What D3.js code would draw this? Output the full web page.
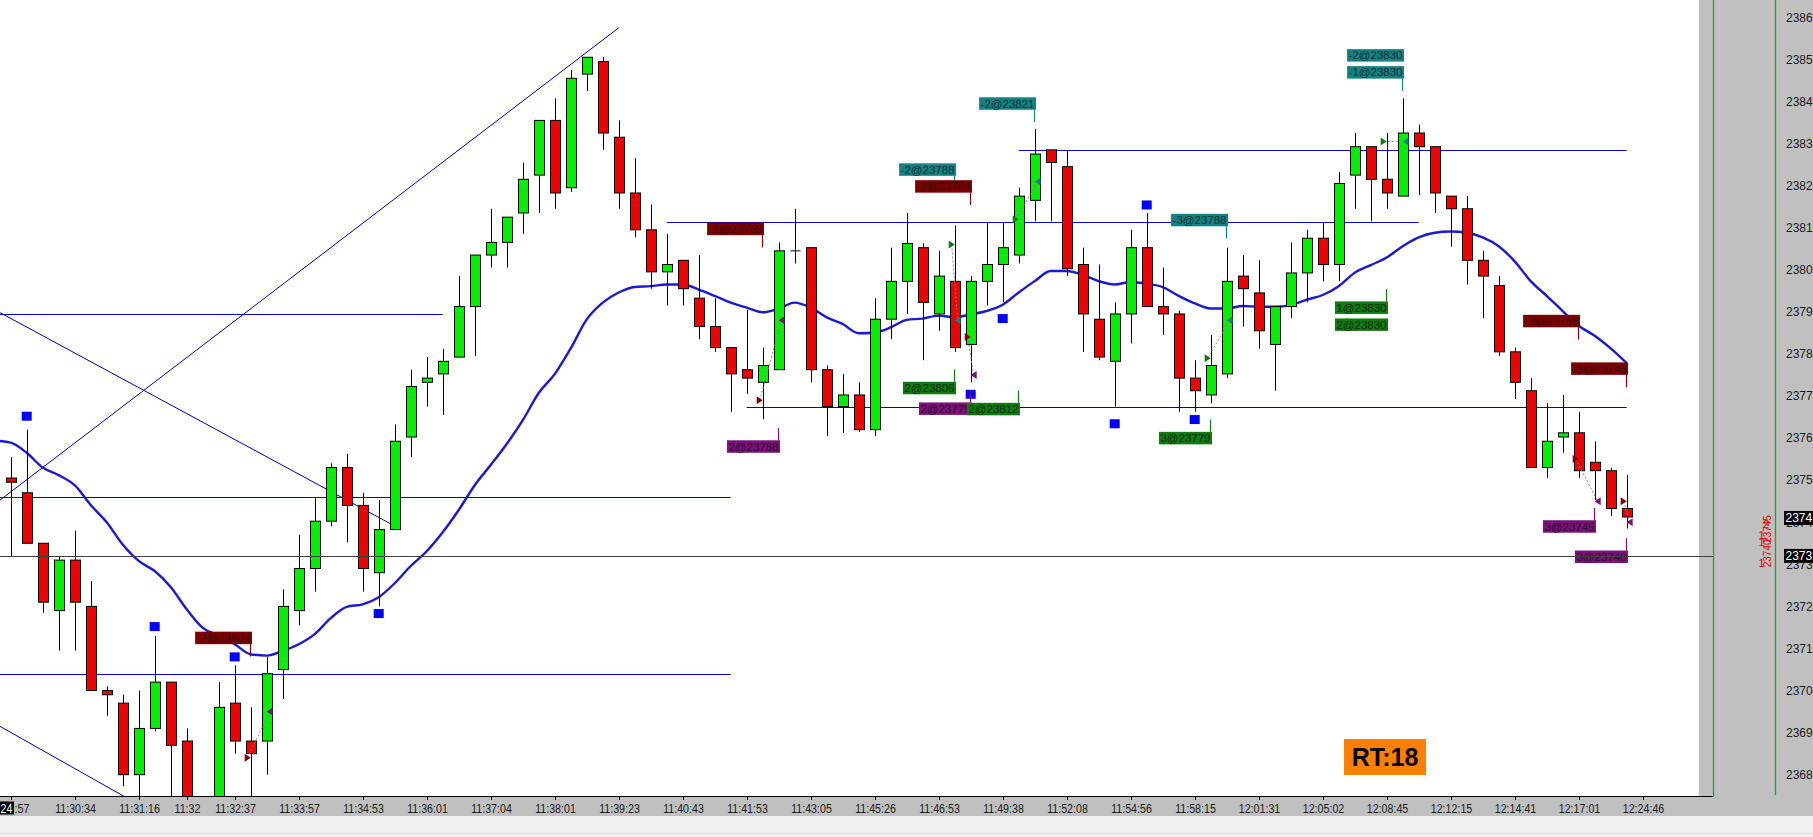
<!DOCTYPE html>
<html><head><meta charset="utf-8">
<script src="https://cdn.jsdelivr.net/npm/d3@7/dist/d3.min.js"></script>
<style>body{margin:0;background:#fff;overflow:hidden}</style>
</head><body><svg id="c" width="1813" height="837"></svg>
<script>
// ---------- DATA ----------
const open  = [23750.5,23747,23735,23719,23731,23720,23700,23697,23680,23691,23702,23688,23670,23668,23697,23688,23688,23705,23719,23729,23740.25,23753,23744,23728,23738.25,23760.25,23773.25,23775.25,23779.25,23791.25,23803.5,23806.5,23813.5,23822.5,23835.5,23819.5,23846.5,23849.5,23831.5,23818.25,23809.5,23799.5,23802.25,23793.25,23786.5,23781.5,23776.25,23773.25,23776.25,23804.5,23805.25,23776.25,23767.5,23770.25,23762,23788.25,23797.25,23805.25,23789.5,23797.25,23782.25,23797.25,23801.25,23803.5,23816.5,23828.5,23824.5,23801.25,23788.25,23778.25,23789.5,23805.25,23791.25,23789.5,23774.25,23770.25,23775.25,23798.5,23794.5,23782.25,23791.25,23799.25,23807.5,23801.25,23822.5,23829.25,23821.5,23817.5,23832.5,23829.25,23817.5,23814.5,23802.25,23796.25,23780.5,23771.25,23753,23760.25,23761.25,23754.25,23752.25,23743.25];
const high  = [23755.5,23762,23735,23732,23738,23726,23701,23699,23700,23713,23702,23691,23673,23702,23706,23696,23708,23724,23737,23746,23754,23756.25,23747,23745.25,23763.25,23776.25,23779.25,23781.25,23798.5,23803.5,23814.5,23812.5,23825.5,23835.5,23840.75,23847.5,23850.5,23850.5,23835.5,23826.5,23815.5,23808.5,23802.25,23803.5,23793.25,23781.5,23790.5,23781.5,23806.5,23814.5,23805.25,23777.25,23775.25,23773.25,23793.25,23805.25,23813.5,23806.25,23804.5,23810.5,23798.5,23811.25,23811.25,23819.5,23833.5,23828.5,23828.5,23805.25,23801.25,23792.25,23809.5,23813.5,23800.5,23790.25,23778.5,23784.5,23805.25,23803.5,23802.25,23791.25,23806.5,23809.5,23811.25,23823.25,23832.5,23829.25,23832.5,23840.75,23834.5,23829.25,23817.5,23817.5,23804.5,23798.5,23781.5,23774.25,23768.25,23770.25,23766.25,23759.25,23753,23751.25];
const low   = [23732,23735,23718.5,23709.5,23709.5,23700,23694,23677.25,23672,23690.25,23671,23668,23663,23666,23685,23672,23680,23698,23715.5,23723.5,23739,23735.25,23723.5,23720,23738.25,23755.5,23767.5,23765.5,23779.25,23779.5,23800.5,23800.5,23808.5,23813.5,23814.5,23818.5,23842.5,23828.5,23814.5,23807.75,23795.5,23791.5,23791.5,23783.5,23780.5,23766.25,23770.5,23764.5,23776.25,23801.5,23773.25,23760.5,23761.25,23761.5,23760.5,23783.5,23789.5,23778.5,23785.5,23780.5,23773.25,23791.5,23792.25,23801.5,23811.5,23811.5,23798.5,23780.5,23778.5,23767.5,23782.5,23791.25,23784.5,23766.25,23766.25,23768.25,23774.25,23786.5,23781.25,23771.25,23788.5,23792.25,23797.25,23797.25,23814.5,23811.5,23814.5,23817.5,23817.75,23813.5,23805.5,23796.5,23788.5,23779.5,23769.25,23753,23750.5,23756.5,23750.5,23745.25,23741.5,23738.5];
const close = [23749.5,23735,23721,23731,23721,23700,23699,23680,23691,23702,23687,23672,23666,23696,23688,23685,23704,23720,23729,23740.25,23753,23744,23729,23738.25,23759.25,23772.25,23774.25,23778.25,23791.25,23803.5,23806.5,23812.5,23821.5,23835.5,23818.25,23845.5,23850.5,23832.5,23818.25,23809.5,23799.5,23801.25,23795.5,23786.5,23781.5,23775.25,23774.25,23777.25,23804.5,23804.5,23776.25,23767.5,23770.25,23762,23788.25,23797.25,23806.25,23792.25,23798.5,23781.5,23797.25,23801.25,23805.25,23817.5,23827.5,23825.5,23800.25,23789.5,23779.25,23789.5,23805.25,23791.25,23789.5,23774.25,23771.25,23777.25,23797.25,23795.5,23785.5,23791.25,23799.25,23807.5,23801.25,23820.5,23829.25,23821.5,23818.25,23832.5,23829.25,23818.25,23814.5,23802.25,23798.5,23780.5,23773.25,23753,23759.25,23761.25,23752.25,23752.25,23743.25,23741.25];
// moving average, first value belongs to bar -1
const maFirstBar = -1;
const ma = [23759.4,23758.9,23756.5,23753.0,23751.2,23748.8,23744.1,23740.0,23734.7,23730.8,23728.4,23724.6,23719.3,23714.9,23713.1,23711.0,23708.6,23708.3,23709.4,23711.0,23713.4,23717.2,23719.9,23720.5,23722.2,23725.5,23729.6,23733.1,23737.6,23742.9,23748.8,23753.6,23758.6,23764.2,23770.7,23775.2,23781.3,23788.2,23792.2,23794.6,23795.9,23796.1,23796.5,23796.5,23795.3,23793.8,23792.2,23791.0,23789.9,23790.8,23792.2,23791.0,23788.7,23787.1,23784.9,23785.1,23786.3,23788.1,23788.4,23789.1,23788.7,23789.4,23790.2,23791.7,23794.6,23797.3,23799.7,23799.7,23798.8,23797.3,23796.5,23797.1,23796.7,23795.9,23793.8,23792.0,23790.8,23790.8,23791.4,23791.2,23791.2,23791.6,23792.9,23794.0,23796.1,23799.3,23801.1,23802.9,23805.6,23807.7,23808.8,23809.1,23808.8,23807.7,23805.6,23802.0,23797.3,23793.8,23790.2,23786.7,23784.3,23781.3,23777.8];

const priceTicks = [23680,23690,23700,23710,23720,23730,23740,23750,23760,23770,23780,23790,23800,23810,23820,23830,23840,23850,23860];
const timeTickBars   = [4,8,11,14,18,22,26,30,34,38,42,46,50,54,58,62,66,70,74,78,82,86,90,94,98,102];
const timeTickLabels = ["11:30:34","11:31:16","11:32","11:32:37","11:33:57","11:34:53","11:36:01","11:37:04","11:38:01","11:39:23","11:40:43","11:41:53","11:43:05","11:45:26","11:46:53","11:49:38","11:52:08","11:54:56","11:58:15","12:01:31","12:05:02","12:08:45","12:12:15","12:14:41","12:17:01","12:24:46"];

const signalBars   = [1,9,14,23,60,62,69,71,74];
const signalPrices = [23765.2,23715.2,23708.0,23718.3,23770.4,23788.4,23763.4,23815.4,23764.4];

const levelPrices = [23789.4,23746.1,23704.0,23811.3,23767.4,23828.4];
const levelFrom   = [-1,-1,-1,41,46,63];
const levelTo     = [27,45,45,88,101,101];

const trendFromBar   = [-1,-1,-1];
const trendFromPrice = [23744.3,23790.5,23692.2];
const trendToBar     = [38,24,10];
const trendToPrice   = [23857.5,23739.1,23668.6];

const markPrice = 23732;
const lastPrice = 23741;

const orderBars   = [15,47,48,59,60,59,60,63,64,75,76,86,86,87,87,98,101,99,101];
const orderPrices = [23708.1,23805.3,23762.4,23819.4,23815.4,23776.3,23771.4,23771.3,23835.1,23764.4,23807.4,23795.4,23795.4,23842.5,23842.5,23783.4,23772.1,23743.4,23736.2];
const orderSides  = ["up","up","down","up","up","down","down","down","up","down","up","down","down","up","up","up","up","down","down"];
const orderSlots  = [0,0,0,0,0,0,0,0,0,0,0,0,1,0,1,0,0,0,0];
const orderTexts  = ["-2@23684","-2@23769","2@23788","-2@23788","-2@23784","2@23806","2@23775","2@23812","-2@23821","3@23779","-3@23788","1@23830","2@23830","-1@23830","-2@23830","-3@23755","-3@23745","3@23745","3@23740"];
const orderKinds  = ["dr","dr","pu","te","dr","gr","pu","gr","te","gr","te","gr","gr","te","te","dr","dr","pu","pu"];

const entryBars   = [15,47,59,60,63,75,86,98,101];
const entryPrices = [23684,23769,23806,23784,23812,23779,23830.5,23755,23745];
const entryKinds  = ["dr","dr","gr","dr","gr","gr","gr","dr","dr"];
const exitBars    = [16,48,59,60,64,76,87,99,101];
const exitPrices  = [23695,23788,23788,23775,23821,23788,23830.5,23745,23740];
const exitKinds   = ["pu","pu","te","pu","te","te","te","pu","pu"];

// small red order-quantity marks in the price-scale strip
const scaleMarkTexts  = ["2","1","1","1"];
const scaleMarkPrices = [23739.6,23737.0,23735.3,23730.3];
const scaleTagTexts   = ["23745","23740"];
const scaleTagPrices  = [23738.4,23732.6];

// ---------- DRAW ----------
const W = 1813, H = 837, plotR = 1699, plotB = 796;
const svg = d3.select("#c");
const x = d3.scaleLinear().domain([0,101]).range([10.7,1626.7]);
const y = d3.scaleLinear().domain([23680,23860]).range([774.7,17.3]);

const kindBg   = {dr:"#7d0000", pu:"#7a127a", te:"#138282", gr:"#127a12"};
const kindText = {dr:"#3a0000", pu:"#2e062e", te:"#063030", gr:"#042a04"};
const kindTri  = {dr:"#7d0000", pu:"#7a127a", te:"#138282", gr:"#127a12"};
const FONT = "Liberation Sans, Arial, sans-serif";

svg.append("rect").attr("width",W).attr("height",H).attr("fill","#fff");
// right gray panel & bottom bands
svg.append("rect").attr("x",plotR).attr("y",0).attr("width",W-plotR).attr("height",816).attr("fill","#c0c0c0");
svg.append("rect").attr("x",0).attr("y",plotB).attr("width",W).attr("height",20).attr("fill","#c0c0c0");
svg.append("rect").attr("x",0).attr("y",816).attr("width",W).attr("height",21).attr("fill","#f0f0f0");
svg.append("line").attr("x1",0).attr("x2",W).attr("y1",833.5).attr("y2",833.5).attr("stroke","#dcdcdc");

const defs = svg.append("defs");
defs.append("clipPath").attr("id","plot").append("rect").attr("x",0).attr("y",0).attr("width",plotR).attr("height",plotB);
const g = svg.append("g").attr("clip-path","url(#plot)");

// level lines
levelPrices.forEach((p,i)=>{
  g.append("line").attr("x1",x(levelFrom[i])).attr("x2",x(levelTo[i]))
   .attr("y1",Math.round(y(p))+0.5).attr("y2",Math.round(y(p))+0.5)
   .attr("stroke","#0000c8").attr("stroke-width",1);
});
trendFromBar.forEach((b,i)=>{
  g.append("line").attr("x1",x(b)).attr("y1",y(trendFromPrice[i])).attr("x2",x(trendToBar[i])).attr("y2",y(trendToPrice[i]))
   .attr("stroke","#0000b4").attr("stroke-width",1);
});
// mark line
svg.append("line").attr("x1",0).attr("x2",1713).attr("y1",Math.round(y(markPrice))+0.5).attr("y2",Math.round(y(markPrice))+0.5)
  .attr("stroke","#404040").attr("stroke-width",1);

// MA
const maLine = d3.line().x((d,i)=>x(i+maFirstBar)).y(d=>y(d)).curve(d3.curveMonotoneX);
g.append("path").attr("d",maLine(ma)).attr("fill","none").attr("stroke","#1a1ad2").attr("stroke-width",2.4);

// candles
const bars = d3.range(open.length);
const cg = g.append("g");
bars.forEach(i=>{
  const cx = Math.round(x(i))+0.5;
  cg.append("line").attr("x1",cx).attr("x2",cx).attr("y1",y(high[i])).attr("y2",y(low[i])).attr("stroke","#000").attr("stroke-width",1);
  const top = y(Math.max(open[i],close[i])), bot = y(Math.min(open[i],close[i]));
  const up = close[i] > open[i], flat = close[i] === open[i];
  if (flat) {
    cg.append("line").attr("x1",cx-5).attr("x2",cx+5).attr("y1",top).attr("y2",top).attr("stroke","#000");
  } else {
    cg.append("rect").attr("x",cx-5).attr("y",top).attr("width",10).attr("height",Math.max(1,bot-top))
      .attr("fill",up?"#00f000":"#f00000").attr("stroke","#000").attr("stroke-width",1);
  }
});

// signal squares
signalBars.forEach((b,i)=>{
  g.append("rect").attr("x",x(b)-5).attr("y",y(signalPrices[i])-4.5).attr("width",10).attr("height",9).attr("fill","#0000ff");
});

// trade connectors & triangles
entryBars.forEach((b,i)=>{
  const x1 = x(b)-3, y1 = y(entryPrices[i]), x2 = x(exitBars[i])+3, y2 = y(exitPrices[i]);
  g.append("line").attr("x1",x1).attr("y1",y1).attr("x2",x2).attr("y2",y2)
   .attr("stroke","#8a8a8a").attr("stroke-width",1).attr("stroke-dasharray","2,2");
  g.append("path").attr("d",`M${x1-3},${y1-4}L${x1+3},${y1}L${x1-3},${y1+4}Z`).attr("fill",kindTri[entryKinds[i]]);
  g.append("path").attr("d",`M${x2+3},${y2-4}L${x2-3},${y2}L${x2+3},${y2+4}Z`).attr("fill",kindTri[exitKinds[i]]);
});

// order labels
orderBars.forEach((b,i)=>{
  const k = orderKinds[i];
  const right = Math.round(x(b))+1;
  const ay = y(orderPrices[i]);
  const tick = 12.3, bh = 12.5, gap = 4.5;
  let ty1, ty2, by;
  if (orderSides[i]==="up") { ty1 = ay; ty2 = ay - tick; by = ty2 - bh - orderSlots[i]*(bh+gap); }
  else { ty1 = ay; ty2 = ay + tick; by = ty2 + orderSlots[i]*(bh+gap); }
  const lg = g.append("g");
  const t = lg.append("text").attr("font-family",FONT).attr("font-size",11.5)
     .attr("fill",kindText[k]).text(orderTexts[i]);
  const tw = t.node().getComputedTextLength();
  const bw = tw + 3;
  lg.insert("rect","text").attr("x",right-bw).attr("y",by).attr("width",bw).attr("height",bh).attr("fill",kindBg[k]);
  t.attr("x",right-bw+1.5).attr("y",by+bh-2.2);
  if (orderSlots[i]===0) lg.append("line").attr("x1",right-1.5).attr("x2",right-1.5).attr("y1",ty1).attr("y2",ty2).attr("stroke",kindBg[k]).attr("stroke-width",1.2);
});

// RT box
svg.append("rect").attr("x",1344).attr("y",739).attr("width",82).attr("height",36).attr("fill","#ff8000");
svg.append("text").attr("x",1385).attr("y",766).attr("text-anchor","middle").attr("font-family",FONT)
  .attr("font-weight","bold").attr("font-size",25).attr("fill","#000").text("RT:18");

// right axis
svg.append("line").attr("x1",1713.5).attr("x2",1713.5).attr("y1",0).attr("y2",797).attr("stroke","#1fa81f").attr("stroke-width",1.3);
svg.append("line").attr("x1",1775.5).attr("x2",1775.5).attr("y1",0).attr("y2",795).attr("stroke","#1fa81f").attr("stroke-width",1.3);
svg.append("line").attr("x1",0).attr("x2",1713).attr("y1",796.5).attr("y2",796.5).attr("stroke","#000");

// red quantity marks in the scale strip
const rm = svg.append("g").attr("font-family",FONT).attr("fill","#e00000");
scaleMarkTexts.forEach((t,i)=>{
  rm.append("text").attr("x",i===0?1763:1758.5).attr("y",y(scaleMarkPrices[i])+4).attr("font-size",11).text(t);
});
scaleTagTexts.forEach((t,i)=>{
  rm.append("text").attr("transform",`translate(1771,${y(scaleTagPrices[i])}) rotate(-90)`).attr("text-anchor","middle")
    .attr("font-size",10).text(t);
});

const ya = svg.append("g").attr("font-family",FONT).attr("font-size",12).attr("fill","#1a1a1a");
priceTicks.forEach(p=>{
  ya.append("text").attr("x",1786).attr("y",y(p)+4.3).text(p);
});
[lastPrice, markPrice].forEach(p=>{
  const by = y(p);
  ya.append("rect").attr("x",1784).attr("y",by-7).attr("width",40).attr("height",14).attr("fill","#000");
  ya.append("text").attr("x",1785.5).attr("y",by+4.3).attr("fill","#fff").text(p);
});

// time axis
const xa = svg.append("g").attr("font-family",FONT).attr("font-size",13).attr("fill","#1a1a1a");
timeTickBars.forEach((b,i)=>{
  const tx = Math.round(x(b))+0.5;
  xa.append("line").attr("x1",tx).attr("x2",tx).attr("y1",797).attr("y2",800).attr("stroke","#000");
  xa.append("text").attr("transform",`translate(${tx},812.5) scale(0.82,1)`).attr("text-anchor","middle").text(timeTickLabels[i]);
});
// first partially hidden tick with date box
xa.append("line").attr("x1",Math.round(x(0))+0.5).attr("x2",Math.round(x(0))+0.5).attr("y1",797).attr("y2",800).attr("stroke","#000");
xa.append("text").attr("transform","translate(14.5,812.5) scale(0.82,1)").text(":57");
xa.append("rect").attr("x",0).attr("y",801.5).attr("width",14).attr("height",13).attr("fill","#000");
xa.append("text").attr("transform","translate(0.5,812.5) scale(0.82,1)").attr("fill","#fff").text("24");
</script>
</body></html>
